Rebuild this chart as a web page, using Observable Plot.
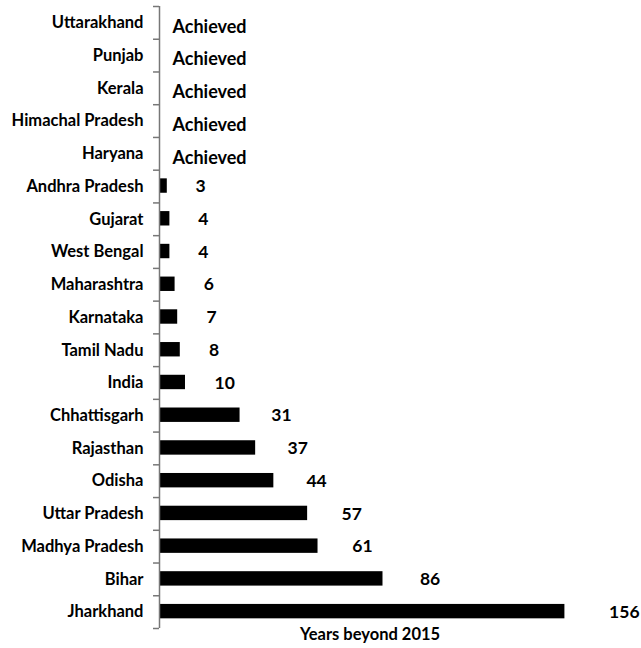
<!DOCTYPE html>
<html>
<head>
<meta charset="utf-8">
<script src="https://cdn.jsdelivr.net/npm/d3@7"></script>
<script src="https://cdn.jsdelivr.net/npm/@observablehq/plot@0.6"></script>
<style>
  html, body { margin: 0; padding: 0; background: #fff; }
  svg { display: block; }
</style>
</head>
<body>
<div id="chart"></div>
<script>
const states = ["Uttarakhand","Punjab","Kerala","Himachal Pradesh","Haryana","Andhra Pradesh","Gujarat","West Bengal","Maharashtra","Karnataka","Tamil Nadu","India","Chhattisgarh","Rajasthan","Odisha","Uttar Pradesh","Madhya Pradesh","Bihar","Jharkhand"];
const years = [null,null,null,null,null,3,4,4,6,7,8,10,31,37,44,57,61,86,156];
const achievedLabel = "Achieved";
const xLabel = "Years beyond 2015";

const data = states.map((s, i) => ({state: s, years: years[i]}));
const barData = data.filter(d => d.years != null);
const achData = data.filter(d => d.years == null);

const W = 641, H = 648, mt = 6, mb = 20, ml = 159, mr = 61;
const step = (H - mt - mb) / states.length;
const font = "Lato, 'Open Sans', sans-serif";

const chart = Plot.plot({
  width: W, height: H,
  marginTop: mt, marginBottom: mb, marginLeft: ml, marginRight: mr,
  style: {fontFamily: font, fontWeight: "bold", fontSize: "16px", color: "#000", background: "#fff"},
  x: {domain: [0, 162], axis: null},
  y: {domain: states, paddingInner: 0.56, paddingOuter: 0.28, round: false, label: null},
  marks: [
    Plot.barX(barData, {x: "years", y: "state", fill: "#000", dy: -0.5}),
    Plot.axisY({tickSize: 0, tickPadding: 16, fontSize: 16.5, fontWeight: "bold", label: null}),
    Plot.ruleX([0], {stroke: "#777", strokeWidth: 1.5}),
    Plot.ruleY(states, {y: d => d, x1: -2.3, x2: 0, dy: -step/2, stroke: "#777", strokeWidth: 1.5}),
    Plot.ruleY([states[states.length-1]], {y: d => d, x1: -2.3, x2: 0, dy: step/2, stroke: "#777", strokeWidth: 1.5}),
    Plot.text(barData, {x: d => d.years * 1.04, y: "state", text: d => String(d.years), textAnchor: "start", dx: 28, dy: 0, fontSize: 17.5, fontWeight: "bold", fill: "#000"}),
    Plot.text(achData, {x: 0, y: "state", text: () => achievedLabel, textAnchor: "start", dx: 13, dy: 4, fontSize: 18, fontWeight: "bold", fill: "#000"}),
    Plot.text([xLabel], {text: d => d, frameAnchor: "bottom", x: 81, dy: 11, fontSize: 16.5, fontWeight: "bold", fill: "#000"})
  ]
});
document.getElementById("chart").appendChild(chart);
</script>
</body>
</html>
